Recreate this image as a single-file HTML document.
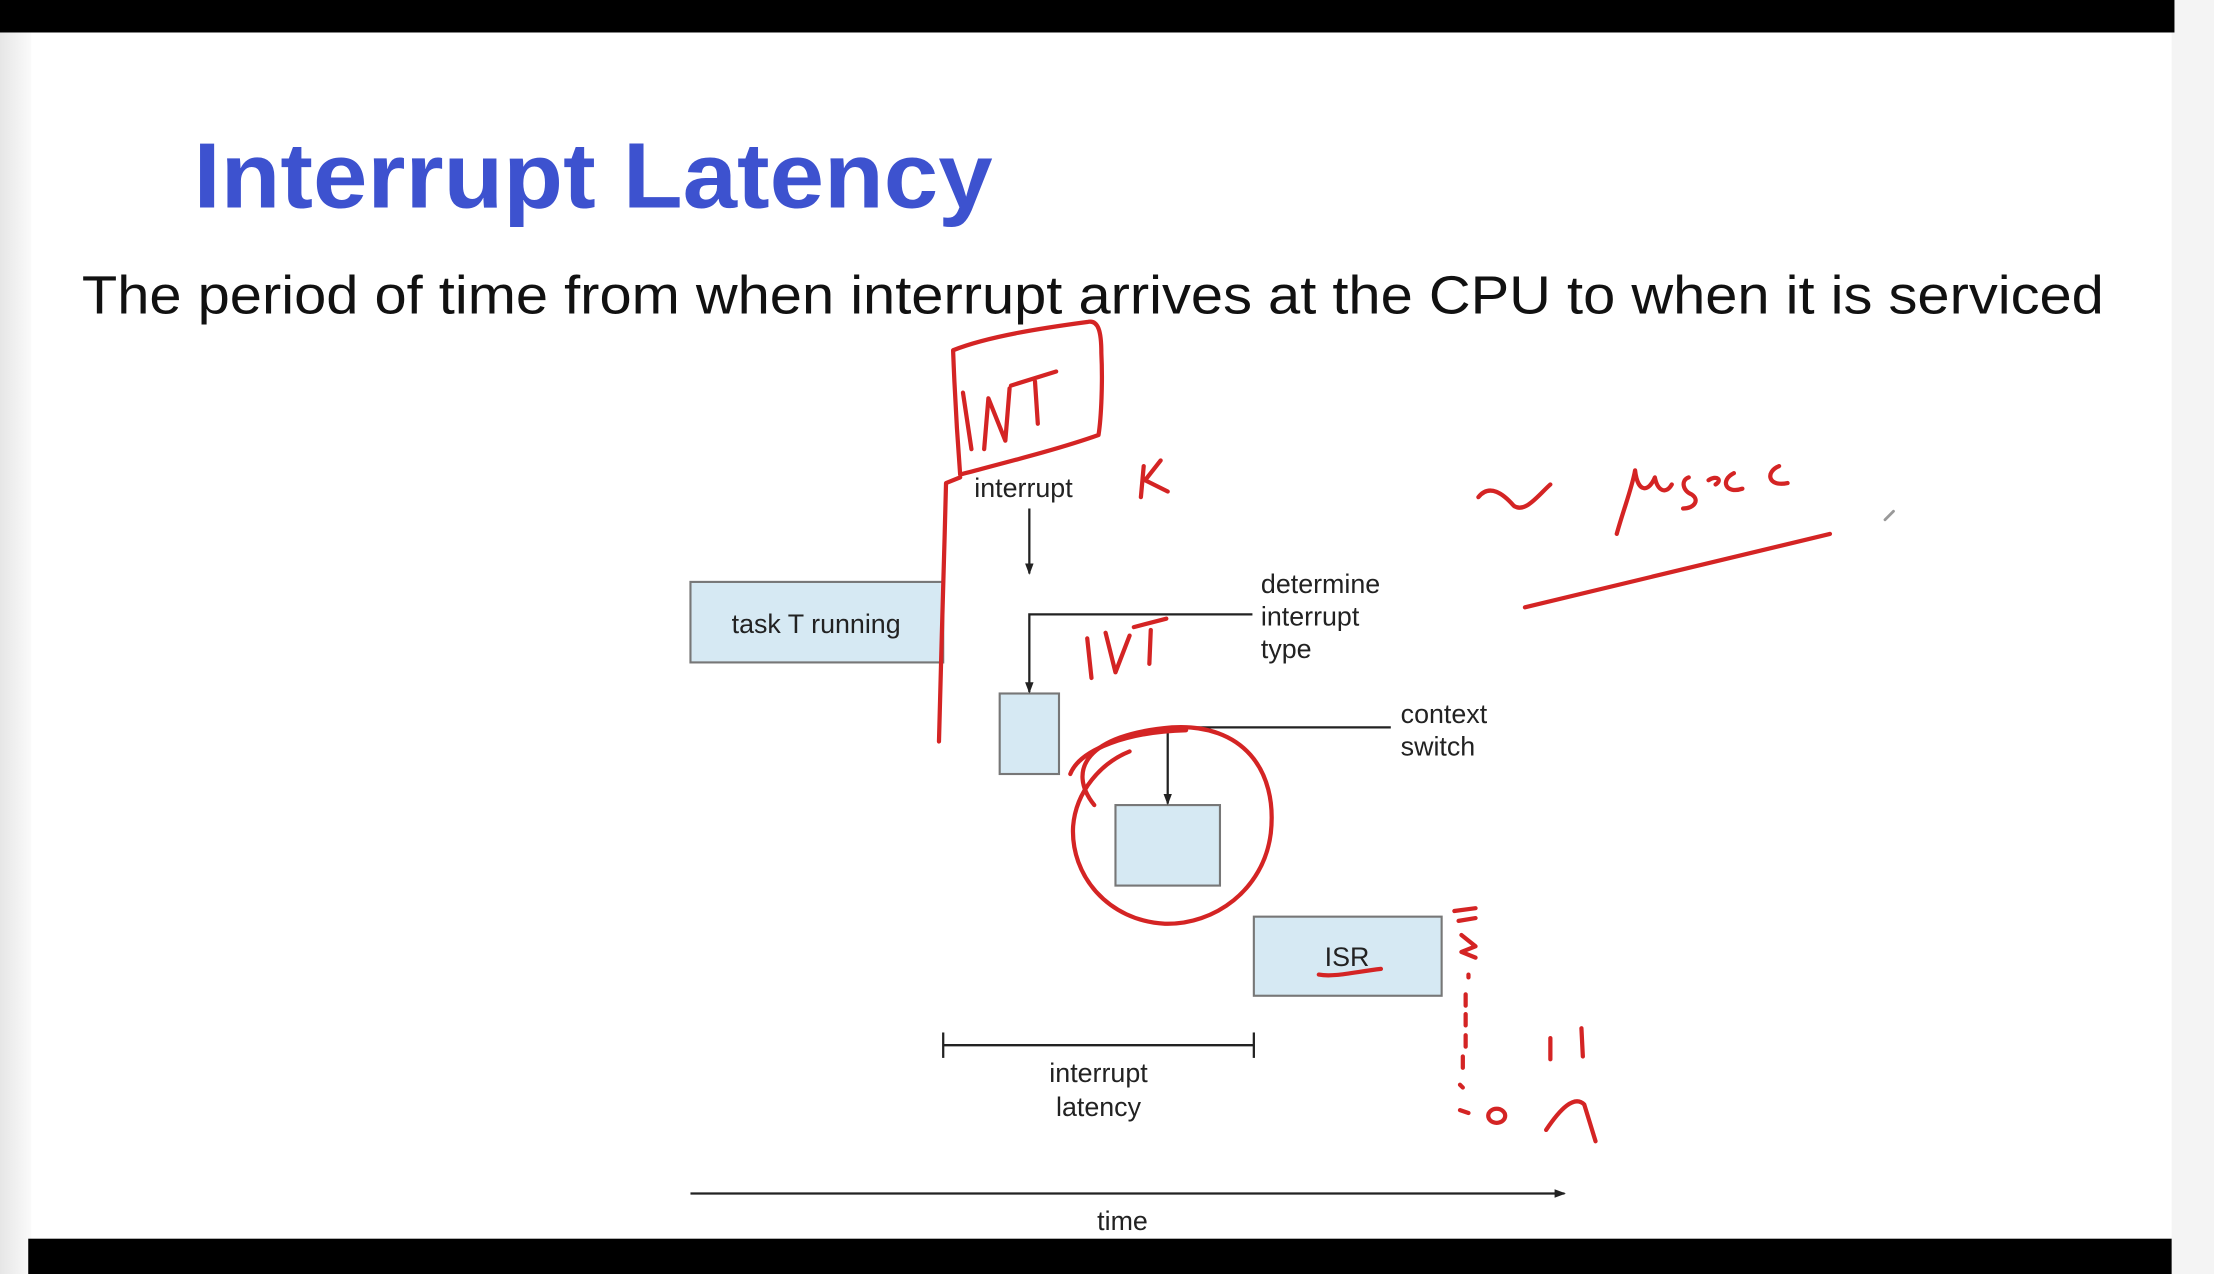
<!DOCTYPE html>
<html><head><meta charset="utf-8"><style>
html,body{margin:0;padding:0;background:#fff;width:2214px;height:1274px;overflow:hidden}
svg{display:block}
</style></head><body>
<svg width="2214" height="1274" viewBox="0 0 1568 902" preserveAspectRatio="none" xmlns="http://www.w3.org/2000/svg">
<defs>
<linearGradient id="lg" x1="0" x2="1"><stop offset="0" stop-color="#e6e6e6"/><stop offset="1" stop-color="#fafafa"/></linearGradient>
<marker id="ah" markerWidth="8" markerHeight="8" refX="7" refY="4" orient="auto" markerUnits="userSpaceOnUse"><path d="M0,1 L8,4 L0,7 z" fill="#222"/></marker>
</defs>
<rect x="0" y="0" width="1568" height="902" fill="#fff"/>
<rect x="0" y="0" width="22" height="902" fill="url(#lg)"/>
<rect x="1538" y="0" width="30" height="902" fill="#f4f4f4"/>
<rect x="0" y="0" width="1540" height="23" fill="#000"/>
<rect x="20" y="877" width="1518" height="25" fill="#000"/>

<text x="137" y="147" font-family="Liberation Sans, sans-serif" font-weight="bold" font-size="66" fill="#3d52cf" textLength="566" lengthAdjust="spacingAndGlyphs">Interrupt Latency</text>
<text x="58" y="222" font-family="Liberation Sans, sans-serif" font-size="38" fill="#111" textLength="1432" lengthAdjust="spacingAndGlyphs">The period of time from when interrupt arrives at the CPU to when it is serviced</text>

<g stroke="#777" stroke-width="1.5" fill="#d6e9f3">
<rect x="489" y="412" width="179" height="57"/>
<rect x="708" y="491" width="42" height="57"/>
<rect x="790" y="570" width="74" height="57"/>
<rect x="888" y="649" width="133" height="56"/>
</g>
<g font-family="Liberation Sans, sans-serif" font-size="19" fill="#222">
<text x="578" y="448" text-anchor="middle">task T running</text>
<text x="690" y="352">interrupt</text>
<text x="893" y="420">determine</text>
<text x="893" y="443">interrupt</text>
<text x="893" y="466">type</text>
<text x="992" y="512">context</text>
<text x="992" y="535">switch</text>
<text x="954" y="684" text-anchor="middle">ISR</text>
<text x="778" y="766" text-anchor="middle">interrupt</text>
<text x="778" y="790" text-anchor="middle">latency</text>
<text x="795" y="871" text-anchor="middle">time</text>
</g>
<g stroke="#222" stroke-width="1.6" fill="none">
<line x1="729" y1="360" x2="729" y2="406" marker-end="url(#ah)"/>
<polyline points="887,435 729,435 729,490" marker-end="url(#ah)"/>
<polyline points="985,515 827,515 827,569" marker-end="url(#ah)"/>
<line x1="668" y1="740" x2="888" y2="740"/>
<line x1="668" y1="731" x2="668" y2="749"/>
<line x1="888" y1="731" x2="888" y2="749"/>
<line x1="489" y1="845" x2="1108" y2="845" marker-end="url(#ah)"/>
</g>

<g stroke="#d42424" stroke-width="3" fill="none" stroke-linecap="round" stroke-linejoin="round">
<path d="M675,248 C700,238 740,232 770,228 C778,226 780,235 780,250 C781,270 780,295 778,308 C750,318 710,328 680,336 C678,310 676,275 675,248"/>
<path d="M682,278 L688,318"/><path d="M697,318 L700,282 L712,312 L715,275"/><path d="M716,273 L748,263"/><path d="M733,270 L735,300"/>
<path d="M680,338 L670,342 L669,380 L667,450 L665,525"/>
<path d="M810,330 L808,352 M822,326 L811,340 L827,348"/>
<path d="M1047,352 C1055,342 1065,350 1072,358 C1080,364 1090,350 1098,343"/>
<path d="M1145,378 C1150,360 1156,345 1158,333 C1160,350 1168,348 1172,338 C1174,348 1180,350 1184,343"/>
<path d="M1196,338 C1190,340 1192,348 1198,350 C1204,354 1200,360 1192,360"/>
<path d="M1228,335 C1218,340 1222,350 1234,346"/><path d="M1260,330 C1250,334 1252,345 1266,342"/><path d="M1210,340 C1216,336 1220,340 1215,343"/>
<path d="M1080,430 L1296,378"/>
<path d="M1335,368 L1341,362" stroke-width="2" stroke="#999"/>
<path d="M770,452 L773,480 M783,448 L790,476 L800,450 M803,444 L826,438 M815,446 L814,470"/>
<path d="M775,570 C755,545 770,520 830,515 C880,512 905,545 900,590 C895,630 860,655 825,654 C785,652 758,620 760,585 C762,560 780,540 800,532"/>
<path d="M758,548 C765,530 800,518 840,517"/>
<path d="M934,690 C945,692 960,688 978,686"/>
<path d="M1030,645 L1045,643 M1033,652 L1045,650 M1035,662 L1045,670 L1035,674 L1045,678 M1040,690 L1040,692 M1038,704 L1038,712 M1038,718 L1038,726 M1038,733 L1038,741 M1036,748 L1036,756 M1034,768 L1036,770 M1034,786 L1040,788"/>
<ellipse cx="1060" cy="790" rx="6" ry="5"/>
<path d="M1098,735 L1098,750 M1120,728 L1121,748"/>
<path d="M1095,800 C1105,785 1115,775 1122,782 L1130,808"/>
</g>
</svg>
</body></html>
